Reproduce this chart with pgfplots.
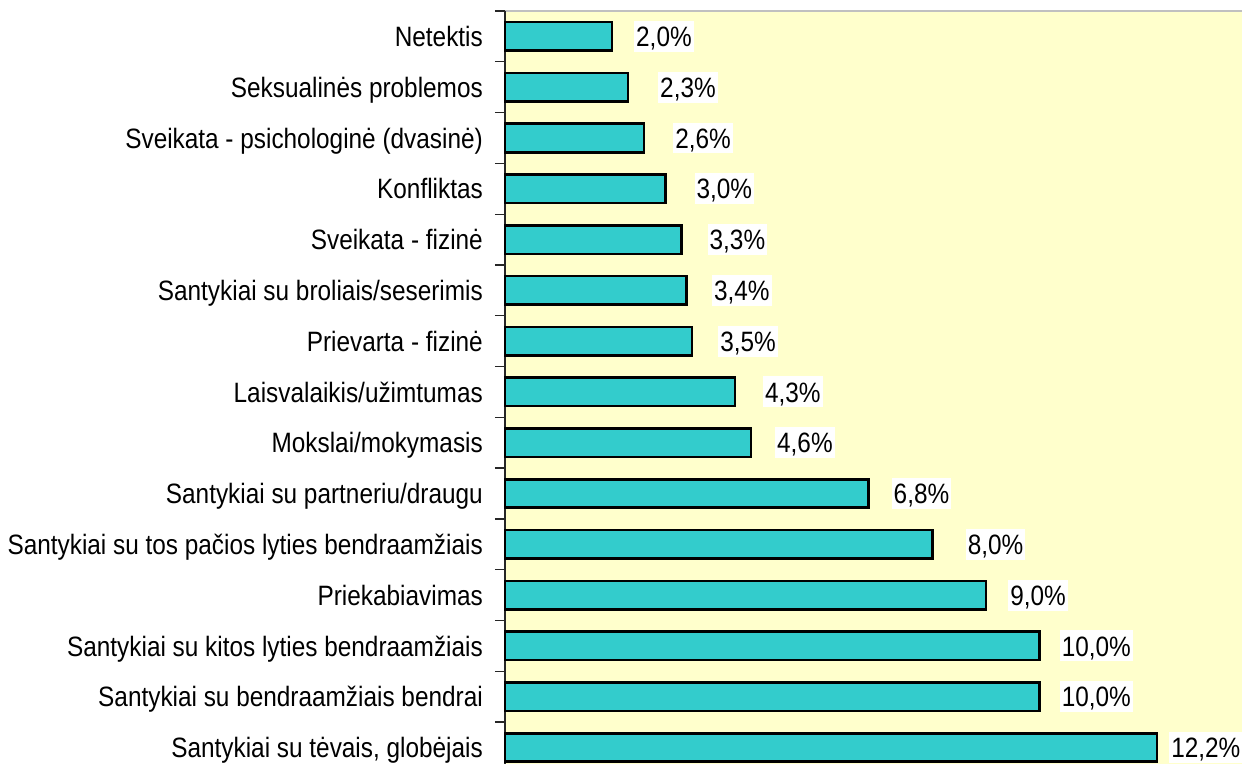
\documentclass[border=0pt]{standalone}
\usepackage{pgfplots}
\pgfplotsset{compat=1.18}
\usepackage{pgfplotstable}
\usepackage{fontspec}
\setmainfont{Liberation Sans}[FakeStretch=0.87]
\definecolor{barcol}{HTML}{33CCCC}
\definecolor{bgcol}{HTML}{FFFFCC}
\definecolor{topline}{HTML}{C0C0C0}
\pgfplotstableread{
y x off
1 2.0 20
2 2.3 28
3 2.6 27
4 3.0 27
5 3.3 24
6 3.4 23
7 3.5 24
8 4.3 26
9 4.6 22
10 6.8 21
11 8.0 31
12 9.0 20
13 10.0 18
14 10.0 18
15 12.2 10
}\datatable
\begin{document}
\begin{tikzpicture}
\useasboundingbox (0pt,0pt) rectangle (1242pt,764pt);
\begin{axis}[
  at={(505pt,753pt)}, anchor=north west,
  scale only axis,
  width=737pt, height=753pt,
  xmin=0, xmax=13.79,
  ymin=0.5, ymax=15.326,
  y dir=reverse,
  enlargelimits=false,
  clip=false,
  axis background/.style={fill=bgcol},
  axis y line*=left,
  axis x line*=top,
  x axis line style={topline, line width=2.7pt},
  y axis line style={black!85, line width=1.5pt},
  xtick=\empty,
  ytick={1,...,15},
  yticklabels={Netektis,
    Seksualinės problemos,
    Sveikata - psichologinė (dvasinė),
    Konfliktas,
    Sveikata - fizinė,
    Santykiai su broliais/seserimis,
    Prievarta - fizinė,
    Laisvalaikis/užimtumas,
    Mokslai/mokymasis,
    Santykiai su partneriu/draugu,
    Santykiai su tos pačios lyties bendraamžiais,
    Priekabiavimas,
    Santykiai su kitos lyties bendraamžiais,
    Santykiai su bendraamžiais bendrai,
    {Santykiai su tėvais, globėjais}},
  minor ytick={0.5,1.5,...,14.5},
  major tick length=0pt,
  minor tick length=10pt,
  tick align=outside,
  minor tick style={black!85, line width=1.3pt},
  yticklabel style={font=\fontsize{28}{32}\selectfont, anchor=base east, inner sep=0pt, xshift=-22pt, yshift=-10.15pt},
  /pgf/number format/assume math mode=true,
]
\addplot[xbar, bar width=28.5pt, fill=barcol, draw=black, line width=2.6pt,
  point meta=x,
  visualization depends on={\thisrow{off} \as \myoff},
  nodes near coords={\pgfmathprintnumber[fixed,fixed zerofill,precision=1,use comma,assume math mode=true]{\pgfplotspointmeta}\%},
  every node near coord/.append style={anchor=west, xshift=\myoff pt + 1pt, fill=white, inner xsep=2pt, inner ysep=5.3pt, text height=20.3pt, text depth=0pt, font=\fontsize{28}{32}\selectfont, text=black}
] table[x=x, y=y] {\datatable};
\end{axis}
\end{tikzpicture}
\end{document}
